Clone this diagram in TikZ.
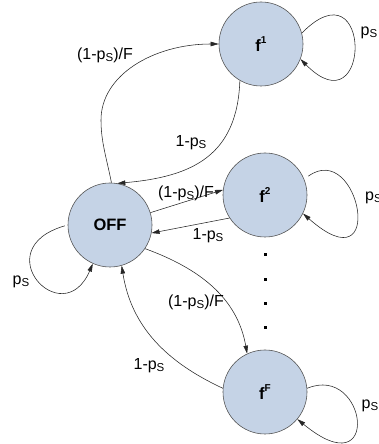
\documentclass[tikz,border=0pt]{standalone}
\usepackage{fontspec}
\setmainfont{Liberation Sans}
\usetikzlibrary{arrows.meta}
\definecolor{nodefill}{RGB}{197,211,230}
\definecolor{nodeline}{RGB}{85,85,85}
\newcommand\pS{p\raisebox{-0.25ex}{\fontsize{11.5}{11.5}\selectfont S}}
\newcommand\supr[1]{\raisebox{0.85ex}{\fontsize{10}{10}\selectfont #1}}
\begin{document}
\begin{tikzpicture}[x=1pt,y=1pt,
  state/.style={circle, draw=nodeline, fill=nodefill, line width=0.6pt,
    minimum size=84pt, inner sep=0pt, font=\fontsize{16.5}{18}\selectfont\bfseries},
  edge/.style={line width=0.55pt, draw=black!85, -{Triangle[length=8pt,width=4.5pt]}},
  lab/.style={font=\fontsize{16}{18}\selectfont, inner sep=0pt},
  dotmark/.style={fill=black, minimum size=3pt, inner sep=0pt, rectangle}]
\useasboundingbox (0,0) rectangle (379,444);
% states
\node[state] (f1)  at (261,400) {f\supr{1}};
\node[state] (f2)  at (265,249) {f\supr{2}};
\node[state] (fF)  at (265,52)  {f\supr{F}};
\node[state] (OFF) at (110,219) {OFF};
% dots
\node[dotmark] (d1) at (265,189) {};
\node[dotmark] (d2) at (265,164) {};
\node[dotmark] (d3) at (265,140) {};
\node[dotmark] (d4) at (265,116) {};
% OFF <-> f1
\coordinate (mL) at (101,324);
\draw[edge] (OFF.88) .. controls +(-5,25) and +(0,-22) .. (mL)
  .. controls +(0,45) and +(-65,0) .. (f1.180);
\draw[edge] (f1.-120) to[out=-92, in=5, looseness=1.2] (OFF.80);
% OFF <-> f2
\draw[edge] (OFF.17) -- (f2.173);
\draw[edge] (f2.213) -- (OFF.-11);
% OFF <-> fF
\draw[edge] (OFF.-34) to[out=-20, in=100] (fF.115);
\draw[edge] (fF.175) to[out=155, in=-81] (OFF.-74);
% self loops
\draw[edge] (f1.15) .. controls +(71,72) and +(71,-72) .. (f1.-21);
\draw[edge, shorten <=5pt] (f2.22) .. controls +(55,40) and +(85,-75) .. (f2.-26);
\draw[edge] (fF.5) .. controls +(60,25) and +(85,-70) .. (fF.-40);
\draw[edge, shorten <=3pt] (OFF.180) .. controls +(-83,-24) and +(-30,-70) .. (OFF.246);
% labels
\node[lab] (l1) at (105,389) {(1-\pS)/F};
\node[lab] (l2) at (191,301) {1-\pS};
\node[lab] (l3) at (186,251) {(1-\pS)/F};
\node[lab] (l4) at (208,208) {1-\pS};
\node[lab] (l5) at (196,142) {(1-\pS)/F};
\node[lab] (l6) at (149,78)  {1-\pS};
\node[lab] (s1) at (369,411) {\pS};
\node[lab, anchor=west] (s2) at (365,246) {\pS};
\node[lab] (s3) at (370,38)  {\pS};
\node[lab] (s4) at (21,162)  {\pS};
\end{tikzpicture}
\end{document}
